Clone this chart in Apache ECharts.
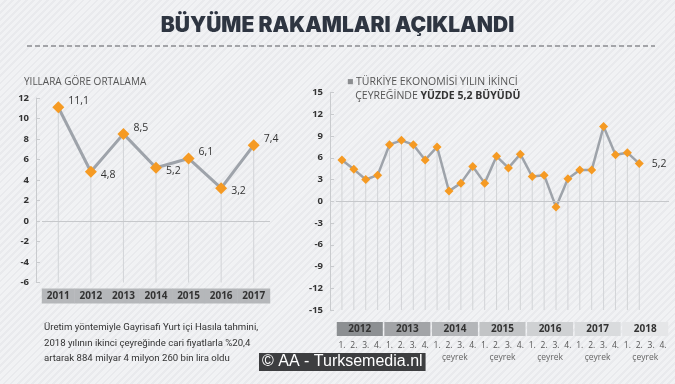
<!DOCTYPE html>
<html>
<head>
<meta charset="utf-8">
<script src="https://cdn.jsdelivr.net/npm/echarts@6/dist/echarts.min.js"></script>
<style>
html,body{margin:0;padding:0;}
body{width:675px;height:384px;overflow:hidden;
background:repeating-linear-gradient(135deg,#f1f2f4 0px,#f1f2f4 3px,#e9eaed 3px,#e9eaed 5px);}
#c{width:675px;height:384px;}
</style>
</head>
<body>
<div id="c"></div>
<script>
// ---- data ----
const years = ['2011','2012','2013','2014','2015','2016','2017'];
const yearlyGrowth = [11.1, 4.8, 8.5, 5.2, 6.1, 3.2, 7.4];
const leftTicks = {min: -6, max: 12, interval: 2};

const quarterYears = ['2012','2013','2014','2015','2016','2017','2018'];
const quarterLabels = ['1.','2.','3.','4.'];
const quarterlyGrowth = [5.7, 4.4, 3.0, 3.6, 7.8, 8.4, 7.8, 5.7, 7.5, 1.4, 2.5, 4.8, 2.5, 6.2, 4.6, 6.5,
                         3.4, 3.6, -0.8, 3.1, 4.3, 4.3, 10.3, 6.4, 6.7, 5.2];
const rightTicks = {min: -15, max: 15, interval: 3};

const title = 'BÜYÜME RAKAMLARI AÇIKLANDI';
const leftTitle = 'YILLARA GÖRE ORTALAMA';
const note = 'Üretim yöntemiyle Gayrisafi Yurt içi Hasıla tahmini,\n2018 yılının ikinci çeyreğinde cari fiyatlarla %20,4\nartarak 884 milyar 4 milyon 260 bin lira oldu';

// ---- build ----
const quarterCats = [];
quarterYears.forEach(y => quarterLabels.forEach(q => quarterCats.push(y + ' ' + q)));
const bandColors = ['#8c8f92','#a2a4a7','#b4b6b9','#c2c4c6','#cfd1d3','#d9dbdd','#e5e6e8'];
const bandRich = {};
bandColors.forEach((c, i) => {
  bandRich['y' + i] = {backgroundColor: c, width: 46, height: 14, lineHeight: 14, align: 'center',
    fontSize: 10, fontWeight: 'bold', color: '#333', fontFamily: 'Open Sans'};
});
const fmt = v => String(v).replace('.', ',');

function dropLines(yMin, color) {
  return function (params, api) {
    const p1 = api.coord([api.value(0), api.value(1)]);
    const p2 = api.coord([api.value(0), yMin]);
    return {type: 'line', shape: {x1: p1[0], y1: p1[1], x2: p2[0], y2: p2[1]},
      style: {stroke: color, lineWidth: 1}};
  };
}

const chart = echarts.init(document.getElementById('c'), null, {renderer: 'canvas'});
const axisText = {fontSize: 9.5, color: '#333', fontWeight: 'bold', fontFamily: 'Open Sans'};

chart.setOption({
  animation: false,
  textStyle: {fontFamily: 'Open Sans'},
  title: [
    {text: title, left: 'center', top: 10,
      textStyle: {fontSize: 21, fontWeight: 900, fontFamily: 'Inter', color: '#2e3541'}},
    {text: leftTitle, left: 19, top: 72,
      textStyle: {fontSize: 10, fontWeight: 'normal', color: '#555'}},
    {text: '{sq|■} TÜRKİYE EKONOMİSİ YILIN İKİNCİ\n   ÇEYREĞİNDE {b|YÜZDE 5,2 BÜYÜDÜ}', left: 342, top: 70,
      textStyle: {fontSize: 10.5, fontWeight: 'normal', color: '#555', lineHeight: 14,
        rich: {sq: {fontSize: 10.5, color: '#8b8d90'}, b: {fontSize: 10.5, fontWeight: 'bold', color: '#333'}}}},
    {text: note, left: 39, top: 315,
      textStyle: {fontSize: 9.6, fontFamily: 'Roboto', fontWeight: 'normal', color: '#333', lineHeight: 15.5}}
  ],
  graphic: [
    {type: 'line', shape: {x1: 27, y1: 46, x2: 655, y2: 46},
      style: {stroke: '#8a8c90', lineWidth: 1.5, lineDash: [5, 3]}},
    {type: 'text', left: 259, top: 353, z: 100,
      style: {text: '© AA - Turksemedia.nl', fill: '#fff', font: '16px "Liberation Sans", Arial',
        backgroundColor: '#3d3e40', padding: [1, 3, 1, 3]}}
  ],
  grid: [
    {left: 42, right: 405, top: 98, bottom: 101.5},
    {left: 336, right: 6, top: 92.5, bottom: 74}
  ],
  xAxis: [
    {gridIndex: 0, type: 'category', data: years, position: 'bottom',
      axisLine: {show: false}, axisTick: {show: false},
      axisLabel: Object.assign({}, axisText, {fontSize: 10, margin: 6, backgroundColor: '#b5b7ba',
        width: 33, height: 15, lineHeight: 15, align: 'center', interval: 0})},
    {gridIndex: 1, type: 'category', data: quarterCats, position: 'bottom',
      axisLine: {show: false}, axisTick: {show: false},
      axisLabel: {fontSize: 8.5, color: '#555', margin: 31, interval: 0,
        formatter: v => v.split(' ')[1]}},
    {gridIndex: 1, type: 'category', data: quarterYears, position: 'bottom', offset: 0,
      axisLine: {show: false}, axisTick: {show: false},
      axisLabel: {margin: 12, interval: 0, rich: bandRich,
        formatter: (v, i) => '{y' + i + '|' + v + '}'}},
    {gridIndex: 1, type: 'category', data: quarterYears, position: 'bottom', offset: 0,
      axisLine: {show: false}, axisTick: {show: false},
      axisLabel: {margin: 43, interval: 0, fontSize: 8.5, color: '#666',
        formatter: () => 'çeyrek'}}
  ],
  yAxis: [
    {gridIndex: 0, type: 'value', min: leftTicks.min, max: leftTicks.max, interval: leftTicks.interval,
      offset: 6, axisLine: {show: true, lineStyle: {color: '#c9cbce'}},
      axisTick: {show: true, inside: true, length: 4, lineStyle: {color: '#c9cbce'}},
      splitLine: {show: false}, axisLabel: Object.assign({}, axisText, {margin: 7})},
    {gridIndex: 1, type: 'value', min: rightTicks.min, max: rightTicks.max, interval: rightTicks.interval,
      offset: 6, axisLine: {show: true, lineStyle: {color: '#c9cbce'}},
      axisTick: {show: true, inside: true, length: 4, lineStyle: {color: '#c9cbce'}},
      splitLine: {show: false}, axisLabel: Object.assign({}, axisText, {margin: 7})}
  ],
  series: [
    {type: 'custom', xAxisIndex: 0, yAxisIndex: 0, silent: true, z: 1,
      renderItem: dropLines(leftTicks.min, '#d2d4d7'),
      data: yearlyGrowth.map((v, i) => [i, v])},
    {type: 'line', xAxisIndex: 0, yAxisIndex: 0, z: 3,
      data: yearlyGrowth.map((v, i) => ({value: v,
        label: {offset: i % 2 === 0 ? [-1, -6] : [-1, 3]}})),
      lineStyle: {color: '#9ea3aa', width: 3},
      symbol: 'diamond', symbolSize: 12, itemStyle: {color: '#f59a23'},
      label: {show: true, position: 'right', fontSize: 10.5, color: '#333', formatter: p => fmt(p.value)},
      markLine: {silent: true, symbol: 'none', label: {show: false},
        lineStyle: {color: '#c6c8cb', width: 1, type: 'solid'}, data: [{yAxis: 0}]}},
    {type: 'custom', xAxisIndex: 1, yAxisIndex: 1, silent: true, z: 1,
      renderItem: dropLines(rightTicks.min, '#d2d4d7'),
      data: quarterlyGrowth.map((v, i) => [i, v])},
    {type: 'line', xAxisIndex: 1, yAxisIndex: 1, z: 3,
      data: quarterlyGrowth.map((v, i) => ({value: v,
        label: {show: i === quarterlyGrowth.length - 1}})),
      lineStyle: {color: '#9ea3aa', width: 2.5},
      symbol: 'diamond', symbolSize: 9, itemStyle: {color: '#f59a23'},
      label: {show: false, position: 'right', distance: 8, fontSize: 10.5, color: '#333',
        formatter: p => fmt(p.value)},
      markLine: {silent: true, symbol: 'none', label: {show: false},
        lineStyle: {color: '#c6c8cb', width: 1, type: 'solid'}, data: [{yAxis: 0}]}}
  ]
});
</script>
</body>
</html>
